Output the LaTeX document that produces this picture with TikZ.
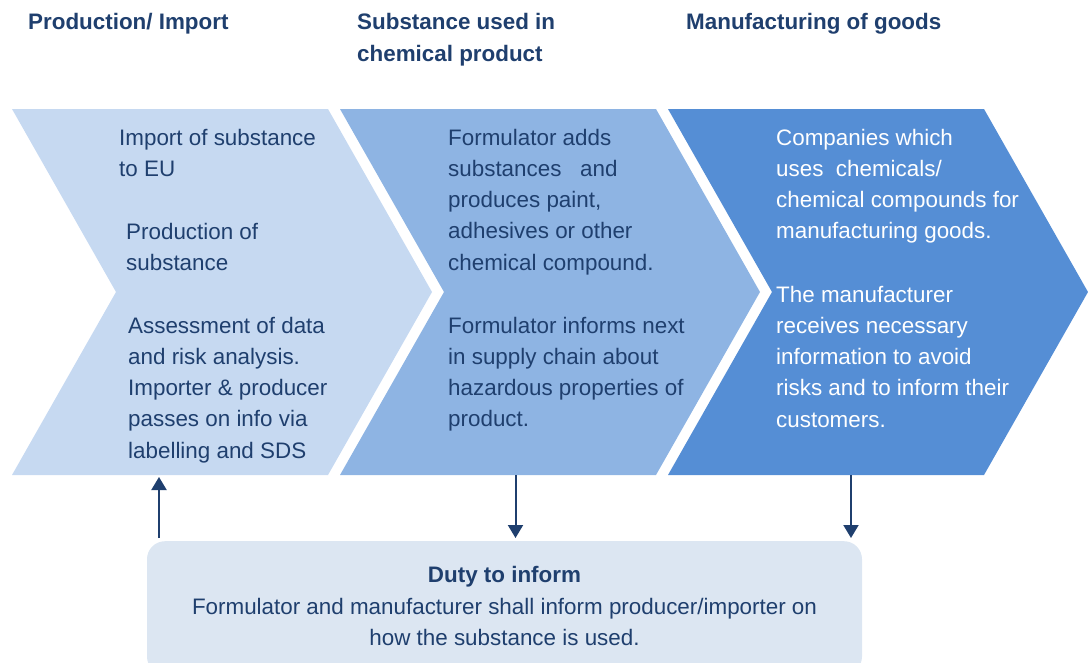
\documentclass[tikz,border=0pt]{standalone}
\usepackage{fontspec}
\setmainfont{Liberation Sans}
\usetikzlibrary{positioning,arrows.meta}
\definecolor{navy}{HTML}{1F3F6E}
\definecolor{pale}{HTML}{C6D9F1}
\definecolor{mid}{HTML}{8EB4E3}
\definecolor{deep}{HTML}{558ED5}
\definecolor{boxfill}{HTML}{DCE6F2}

\begin{document}
\begin{tikzpicture}[x=1pt, y=-1pt,
	txt/.style={anchor=north west, inner sep=0pt, align=left, text=navy, font=\fontsize{22.4}{31.25}\selectfont},
	head/.style={txt, font=\fontsize{22.4}{32}\selectfont\bfseries},
	link/.style={draw=navy, line width=2pt, -{Triangle[length=13pt, width=15pt]}}]
				\useasboundingbox (0,0) rectangle (1088,662);
				\clip (0,0) rectangle (1088,662);
				\node[head] (H1) at (28, 6.6) {\strut Production/ Import};
				\node[head] (H2) at (357, 6.6) {\strut Substance used in\\chemical product};
				\node[head] (H3) at (686, 6.6) {\strut Manufacturing of goods};
				\fill[pale] (12,109) -- (328,109) -- (432,292) -- (328,475) -- (12,475) -- (116,292) -- cycle;
				\fill[mid] (340,109) -- (656,109) -- (760,292) -- (656,475) -- (340,475) -- (444,292) -- cycle;
				\fill[deep] (668,109) -- (984,109) -- (1088,292) -- (984,475) -- (668,475) -- (772,292) -- cycle;
				\coordinate (P1) at (159,475);
				\coordinate (S2) at (515.5,475);
				\coordinate (M3) at (851,475);
				\node[txt] (imp) at (119, 123.1) {\strut Import of substance\\to EU};
				\node[txt] (prod) at (126, 217.1) {\strut Production of\\substance};
				\node[txt] (risk) at (128, 311.1) {\strut Assessment of data\\and risk analysis.\\Importer \& producer\\passes on info via\\labelling and SDS};
				\node[txt] (form) at (448, 123.1) {\strut Formulator adds\\substances\ \ \ and\\produces paint,\\adhesives or other\\chemical compound.};
				\node[txt] (next) at (448, 311.1) {\strut Formulator informs next\\in supply chain about\\hazardous properties of\\product.};
				\node[txt, text=white] (comp) at (776, 123.1) {\strut Companies which\\uses\ \ chemicals/\\chemical compounds for\\manufacturing goods.};
				\node[txt, text=white] (recv) at (776, 280.1) {\strut The manufacturer\\receives necessary\\information to avoid\\risks and to inform their\\customers.};
				\node[anchor=north, fill=boxfill, rounded corners=18pt, minimum width=715pt, minimum height=133.4pt, align=center, text=navy, font=\fontsize{22.4}{31.25}\selectfont] (duty) at (504.5,541) {\strut\textbf{Duty to inform}\\Formulator and manufacturer shall inform producer/importer on\\how the substance is used.\strut};
				\draw[link, shorten <=3pt, shorten >=2pt] (duty.north -| P1) -- (P1);
				\draw[link, shorten >=3pt] (S2) -- (S2 |- duty.north);
				\draw[link, shorten >=3pt] (M3) -- (M3 |- duty.north);
			\end{tikzpicture}
\end{document}
